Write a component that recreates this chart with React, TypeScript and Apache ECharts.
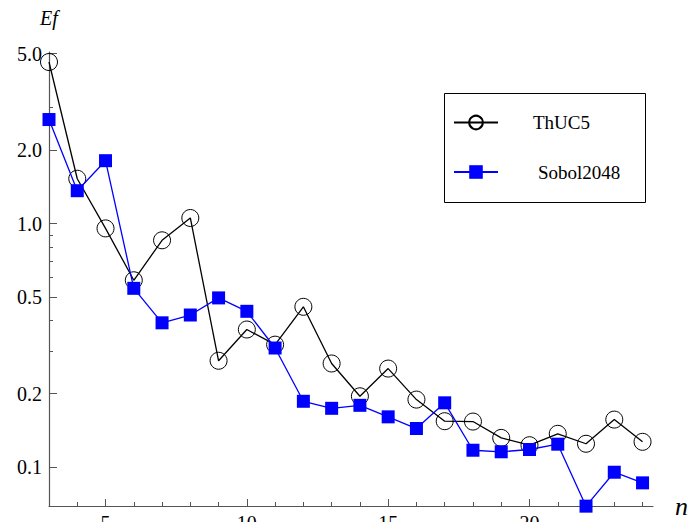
import React, { useEffect, useRef } from 'react';
import * as echarts from 'echarts';

const nValues = [3, 4, 5, 6, 7, 8, 9, 10, 11, 12, 13, 14, 15, 16, 17, 18, 19, 20, 21, 22, 23, 24];
const thuc5 = [4.62, 1.53, 0.956, 0.585, 0.854, 1.055, 0.273, 0.367, 0.318, 0.455, 0.266, 0.195, 0.2535, 0.189, 0.154, 0.1535, 0.1315, 0.1227, 0.1367, 0.1244, 0.1564, 0.1267];
const sobol2048 = [2.68, 1.366, 1.815, 0.542, 0.391, 0.421, 0.495, 0.436, 0.308, 0.186, 0.174, 0.179, 0.1605, 0.1437, 0.1833, 0.117, 0.1153, 0.1178, 0.1239, 0.0689, 0.095, 0.0859];
const yMajorTicks = [0.1, 0.2, 0.5, 1, 2, 5];
const yMinorTicks = [0.3, 0.4, 0.6, 0.7, 0.8, 0.9, 3];
const xMajorTicks = [5, 10, 15, 20];
const xMinorTicks = [4, 6, 7, 8, 9, 11, 12, 13, 14, 16, 17, 18, 19, 21, 22, 23, 24];

const FONT = "'Liberation Serif', 'DejaVu Serif', serif";
const AXIS_COLOR = '#555';

export default function App() {
  const ref = useRef<HTMLDivElement>(null);
  useEffect(() => {
    document.body.style.margin = '0';
    if (!ref.current) return;
    const chart = echarts.init(ref.current, null, { renderer: 'svg' });
    const X_MIN = 3, X_MAX = 24.37, Y_MIN = 0.069, Y_MAX = 5.08;
    const option: any = {
      animation: false,
      backgroundColor: '#fff',
      textStyle: { fontFamily: FONT },
      grid: { left: 49, top: 52, width: 604, height: 454, containLabel: false, outerBoundsMode: 'none' },
      xAxis: [
        {
          type: 'value', min: X_MIN, max: X_MAX,
          name: 'n', nameLocation: 'end', nameGap: 22,
          nameTextStyle: { fontFamily: FONT, fontStyle: 'italic', fontSize: 26, color: '#000', verticalAlign: 'middle' },
          axisLine: { show: true, onZero: false, lineStyle: { color: AXIS_COLOR, width: 1.2 } },
          axisTick: { show: true, inside: true, length: 7, customValues: xMajorTicks, lineStyle: { color: AXIS_COLOR } },
          axisLabel: { show: true, customValues: xMajorTicks, margin: 7, fontSize: 20, color: '#000', fontFamily: FONT },
          splitLine: { show: false },
        },
        {
          type: 'value', min: X_MIN, max: X_MAX, position: 'bottom',
          axisLine: { show: false, onZero: false },
          axisTick: { show: true, inside: true, length: 4, customValues: xMinorTicks, lineStyle: { color: AXIS_COLOR } },
          axisLabel: { show: false },
          splitLine: { show: false },
        },
      ],
      yAxis: [
        {
          type: 'log', logBase: 10, min: Y_MIN, max: Y_MAX,
          name: 'Ef', nameLocation: 'end', nameGap: 24,
          nameTextStyle: { fontFamily: FONT, fontStyle: 'italic', fontSize: 20, color: '#000', align: 'center' },
          axisLine: { show: true, onZero: false, lineStyle: { color: AXIS_COLOR, width: 1.2 } },
          axisTick: { show: true, inside: true, length: 8, customValues: yMajorTicks, lineStyle: { color: AXIS_COLOR } },
          axisLabel: {
            show: true, customValues: yMajorTicks, margin: 7, fontSize: 20, color: '#000', fontFamily: FONT,
            formatter: (v: number) => Number(v).toFixed(1),
          },
          splitLine: { show: false },
        },
        {
          type: 'log', logBase: 10, min: Y_MIN, max: Y_MAX, position: 'left',
          axisLine: { show: false, onZero: false },
          axisTick: { show: true, inside: true, length: 4, customValues: yMinorTicks, lineStyle: { color: AXIS_COLOR } },
          axisLabel: { show: false },
          splitLine: { show: false },
        },
      ],
      legend: [
        {
          data: ['ThUC5'], orient: 'vertical', left: 453, top: 113, padding: 0,
          itemWidth: 44, itemHeight: 17,
          textStyle: { fontFamily: FONT, fontSize: 19, color: '#000', padding: [0, 0, 0, 30] },
        },
        {
          data: ['Sobol2048'], orient: 'vertical', left: 453, top: 162.5, padding: 0,
          itemWidth: 44, itemHeight: 17,
          textStyle: { fontFamily: FONT, fontSize: 19, color: '#000', padding: [0, 0, 0, 35] },
        },
      ],
      graphic: [
        {
          type: 'rect', left: 442, top: 91, silent: true,
          shape: { width: 201, height: 109 },
          style: { fill: 'none', stroke: '#000', lineWidth: 1 },
        },
      ],
      series: [
        {
          name: 'ThUC5', type: 'line', clip: false, z: 2,
          data: nValues.map((n, i) => [n, thuc5[i]]),
          symbol: 'circle', symbolSize: 17,
          itemStyle: { color: 'rgba(0,0,0,0)', borderColor: '#000', borderWidth: 1 },
          lineStyle: { color: '#000', width: 1.3 },
          emphasis: { disabled: true },
        },
        {
          name: 'Sobol2048', type: 'line', clip: false, z: 3,
          data: nValues.map((n, i) => [n, sobol2048[i]]),
          symbol: 'rect', symbolSize: 13,
          itemStyle: { color: '#0000ff' },
          lineStyle: { color: '#0000ff', width: 1.3 },
          emphasis: { disabled: true },
        },
      ],
    };
    chart.setOption(option);
    return () => chart.dispose();
  }, []);
  return <div ref={ref} style={{ width: 690, height: 522 }} />;
}
